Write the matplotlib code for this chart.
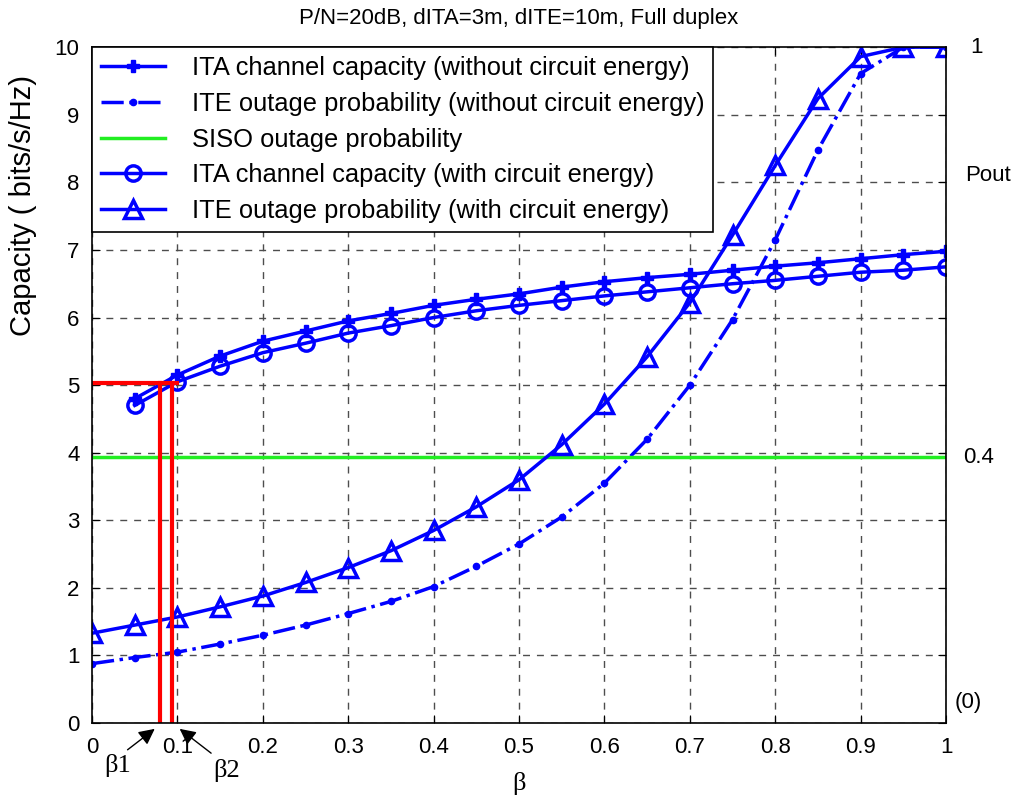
import numpy as np
import matplotlib
matplotlib.use('Agg')
import matplotlib.pyplot as plt

plt.rcParams['font.family'] = ['Liberation Sans', 'DejaVu Sans']

# beta values
beta_all = [0, 0.05, 0.1, 0.15, 0.2, 0.25, 0.3, 0.35, 0.4, 0.45, 0.5,
            0.55, 0.6, 0.65, 0.7, 0.75, 0.8, 0.85, 0.9, 0.95, 1.0]
beta_ita = beta_all[1:]

ita_wo = [4.80, 5.15, 5.43, 5.65, 5.80, 5.95, 6.06, 6.18, 6.27, 6.35,
          6.45, 6.53, 6.59, 6.64, 6.70, 6.76, 6.81, 6.87, 6.93, 6.98]
ita_w = [4.70, 5.05, 5.28, 5.48, 5.62, 5.77, 5.88, 6.00, 6.10, 6.18,
         6.25, 6.32, 6.38, 6.44, 6.50, 6.55, 6.61, 6.67, 6.70, 6.75]
ite_wo = [0.88, 0.97, 1.05, 1.17, 1.30, 1.45, 1.62, 1.80, 2.02, 2.32, 2.65,
          3.05, 3.55, 4.20, 5.00, 5.97, 7.15, 8.48, 9.61, 10.0, 10.0]
ite_w = [1.33, 1.45, 1.57, 1.72, 1.88, 2.08, 2.30, 2.55, 2.85, 3.20, 3.60,
         4.12, 4.72, 5.42, 6.22, 7.22, 8.25, 9.24, 9.86, 10.0, 10.0]
siso = 3.93

# red marker lines for beta1 / beta2
b1, b2, cap_ref = 0.079, 0.094, 5.03

fig = plt.figure(figsize=(10.25, 7.99), dpi=100)
ax = fig.add_axes([0.0898, 0.095, 0.8332, 0.846])

blue = '#0000ff'
ax.plot(beta_ita, ita_wo, '-', color=blue, lw=2.5, marker='P', ms=8,
        label='ITA channel capacity (without circuit energy)')
ax.plot(beta_all, ite_wo, '-.', color=blue, lw=2.5, marker='.', ms=9,
        label='ITE outage probability (without circuit energy)')
ax.axhline(siso, color='#22ee22', lw=2.5, label='SISO outage probability')
ax.plot(beta_ita, ita_w, '-', color=blue, lw=2.5, marker='o', ms=11,
        mfc='none', mew=2.5, label='ITA channel capacity (with circuit energy)')
ax.plot(beta_all, ite_w, '-', color=blue, lw=2.5, marker='^', ms=13,
        mfc='none', mew=2.5, label='ITE outage probability (with circuit energy)')

ax.plot([0, b2 + 0.005], [cap_ref, cap_ref], color='red', lw=3)
ax.plot([b1, b1], [0, cap_ref], color='red', lw=3)
ax.plot([b2, b2], [0, cap_ref], color='red', lw=3)

ax.set_xlim(0, 1)
ax.set_ylim(0, 10)
ax.set_xticks(np.arange(0, 1.01, 0.1))
ax.set_xticklabels(['0', '0.1', '0.2', '0.3', '0.4', '0.5', '0.6', '0.7', '0.8', '0.9', '1'])
ax.set_yticks(range(0, 11))
ax.tick_params(direction='in', top=True, right=True, labelsize=16, length=6)
ax.tick_params(axis='x', pad=10)
ax.tick_params(axis='y', pad=9)
ax.grid(True, color='0.3', ls=(0, (5, 5)), lw=1)
for s in ax.spines.values():
    s.set_linewidth(1.2)

ax.set_title('P/N=20dB, dITA=3m, dITE=10m, Full duplex', fontsize=16, pad=17)
ax.set_ylabel('Capacity ( bits/s/Hz)', fontsize=21)
ax.yaxis.set_label_coords(-0.064, 0.766)
ax.set_xlabel('β', fontsize=19, family='Liberation Serif', labelpad=10)

leg = ax.legend(loc='upper left', fontsize=18.4, fancybox=False, framealpha=1,
                edgecolor='black', handlelength=2.5, handletextpad=1.05,
                borderaxespad=0, borderpad=0.35, labelspacing=0.46)
leg.get_frame().set_linewidth(1.2)

# right-side labels
for xv, yv, t in [(1.028, 10, '1'), (1.022, 8.1, 'Pout'),
                  (1.02, 3.93, '0.4'), (1.01, 0.3, '(0)')]:
    ax.text(xv, yv, t, fontsize=16, va='center', ha='left', clip_on=False)

# beta1 / beta2 annotations
arr = dict(arrowstyle='-|>', color='black', lw=1, mutation_scale=24)
ax.annotate('', xy=(0.076, -0.06), xytext=(0.039, -0.42), arrowprops=arr,
            annotation_clip=False)
ax.annotate('', xy=(0.1, -0.06), xytext=(0.142, -0.47), arrowprops=arr,
            annotation_clip=False)
ax.text(0.03, -0.62, 'β1', fontsize=19, family='Liberation Serif',
        ha='center', va='center', clip_on=False)
ax.text(0.158, -0.7, 'β2', fontsize=19, family='Liberation Serif',
        ha='center', va='center', clip_on=False)

fig.savefig('out.png', dpi=100)
